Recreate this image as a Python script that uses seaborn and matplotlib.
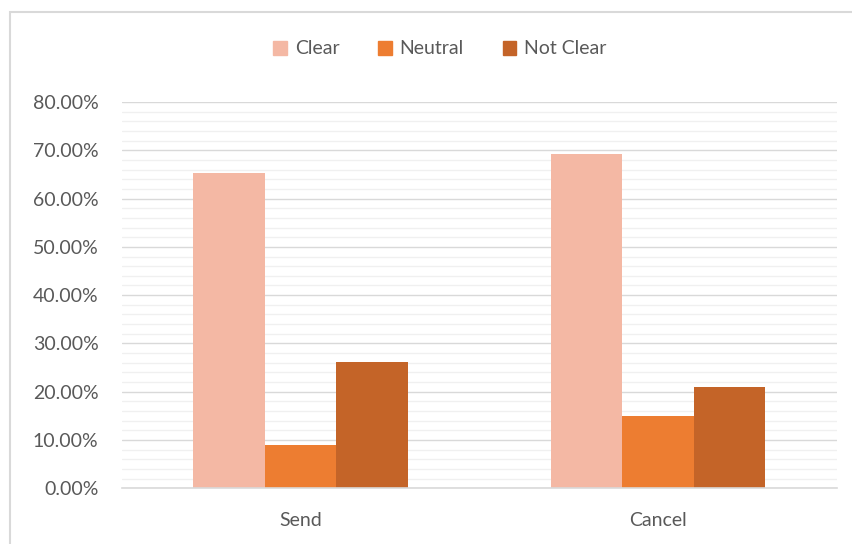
import matplotlib
matplotlib.use("Agg")
import matplotlib.pyplot as plt
import matplotlib.patches as mpatches
from matplotlib.ticker import MultipleLocator, PercentFormatter
import seaborn as sns
import pandas as pd

categories = ["Send", "Cancel"]
series = ["Clear", "Neutral", "Not Clear"]
clear_vals = [0.652, 0.692]
neutral_vals = [0.090, 0.150]
notclear_vals = [0.261, 0.210]
colors = ["#F4B8A4", "#ED7D31", "#C46428"]

rows = []
for i, c in enumerate(categories):
    rows.append((c, "Clear", clear_vals[i]))
    rows.append((c, "Neutral", neutral_vals[i]))
    rows.append((c, "Not Clear", notclear_vals[i]))
df = pd.DataFrame(rows, columns=["cat", "series", "val"])

sns.set_theme(style="white")
plt.rcParams['font.family'] = ['Lato', 'DejaVu Sans']

fig = plt.figure(figsize=(8.53, 5.44), dpi=100)
ax = fig.add_axes([122/853, 1-488.3/544, (837-122)/853, (488.3-102)/544])

sns.barplot(data=df, x="cat", y="val", hue="series", order=categories,
            hue_order=series, palette=colors, width=0.6, ax=ax,
            saturation=1, legend=False, linewidth=0, errorbar=None)

ax.set_ylim(0, 0.8)
ax.set_xlim(-0.5, 1.5)
ax.yaxis.set_major_locator(MultipleLocator(0.1))
ax.yaxis.set_minor_locator(MultipleLocator(0.02))
ax.yaxis.set_major_formatter(PercentFormatter(1.0, decimals=2))
ax.grid(axis="y", which="major", color="#D9D9D9", linewidth=1.0)
ax.grid(axis="y", which="minor", color="#F0F0F0", linewidth=1.0)
ax.set_axisbelow(True)
for s in ["top", "right", "left"]:
    ax.spines[s].set_visible(False)
ax.spines["bottom"].set_color("#D9D9D9")
ax.spines["bottom"].set_linewidth(1.2)
ax.tick_params(axis="both", which="both", length=0, labelsize=14,
               labelcolor="#595959")
ax.tick_params(axis="y", pad=17)
ax.tick_params(axis="x", pad=17)
ax.set_xlabel("")
ax.set_ylabel("")

handles = [mpatches.Patch(color=c, label=s) for c, s in zip(colors, series)]
fig.legend(handles=handles, loc="center", bbox_to_anchor=(440/853, 1-49/544),
           ncol=3, frameon=False, fontsize=14, handlelength=0.7,
           handleheight=0.7, handletextpad=0.4, columnspacing=2.0,
           labelcolor="#595959")

border = mpatches.Rectangle((10/853, -0.1), 1.2, 1-12/544+0.1,
                            transform=fig.transFigure, fill=False,
                            edgecolor="#D9D9D9", linewidth=1.5)
fig.patches.append(border)

fig.savefig("out.png", dpi=100)
